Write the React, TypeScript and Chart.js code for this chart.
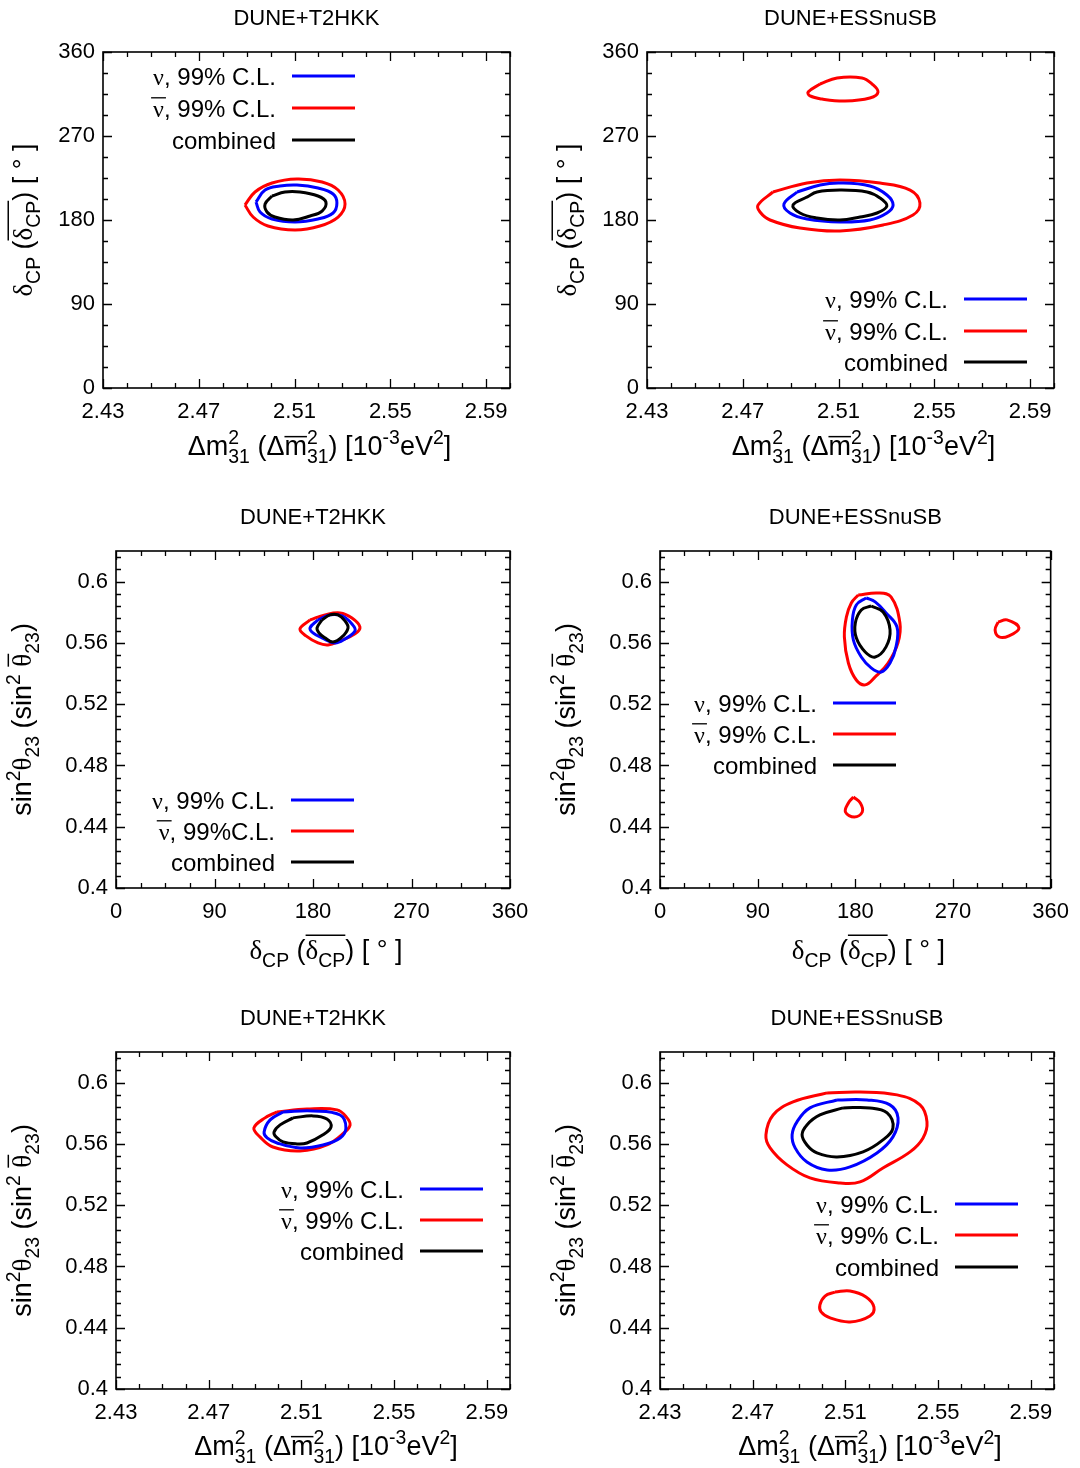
import React, { useEffect, useRef } from 'react';
import { Chart, registerables } from 'chart.js';
Chart.register(...registerables);

const SANS = '"Liberation Sans", Arial, Helvetica, sans-serif';
const SERIF = '"Liberation Serif", "Times New Roman", serif';

// ---------- tick labels / texts ----------
const dmTickLabels = ['2.43', '2.47', '2.51', '2.55', '2.59'];
const deltaTickLabels = ['0', '90', '180', '270', '360'];
const s23TickLabels = ['0.4', '0.44', '0.48', '0.52', '0.56', '0.6'];
const panelTitles = ['DUNE+T2HKK', 'DUNE+ESSnuSB'];
const legendNames = ['ν, 99% C.L.', 'ν, 99% C.L.', 'combined'];
const legendNamesAlt = ['ν, 99% C.L.', 'ν, 99%C.L.', 'combined'];
const seriesColors = ['#0000ff', '#ff0000', '#000000'];

// ---------- axis ranges ----------
const dmRange = [2.43, 2.6];
const deltaRange = [0, 360];
const s23Range = [0.4, 0.62];
const dmStep = 0.01;
const deltaStep = 22.5;
const s23Step = 0.008;

// ---------- contour data ----------
// Panel 1: DUNE+T2HKK, x = dm31^2, y = deltaCP
const t2hkkDmDeltaNu = [[2.4939,199.3],[2.4977,212.1],[2.5039,216.4],[2.5110,217.5],[2.5198,214.3],[2.5261,207.9],[2.5277,198.2],[2.5261,187.5],[2.5198,181.1],[2.5102,177.9],[2.5006,181.1],[2.4956,188.6]];
const t2hkkDmDeltaNuBar = [[2.4893,196.1],[2.4935,210.0],[2.5006,219.6],[2.5110,223.9],[2.5215,220.7],[2.5282,212.1],[2.5311,197.1],[2.5282,183.2],[2.5206,173.6],[2.5102,169.3],[2.4989,173.6],[2.4927,183.2]];
const t2hkkDmDeltaComb = [[2.5006,205.7],[2.5060,210.0],[2.5123,210.0],[2.5198,205.7],[2.5231,199.3],[2.5215,189.6],[2.5165,184.3],[2.5094,180.0],[2.5018,183.2],[2.4985,188.6],[2.4977,197.1]];

// Panel 2: DUNE+ESSnuSB, x = dm31^2, y = deltaCP
const essDmDeltaNu = [[2.4927,210.0],[2.5023,217.5],[2.5106,219.6],[2.5231,216.4],[2.5302,206.8],[2.5328,196.1],[2.5302,187.5],[2.5231,180.0],[2.5106,177.9],[2.4968,181.1],[2.4897,187.5],[2.4872,197.1]];
const essDmDeltaNuBar = [[2.4826,210.0],[2.4968,219.6],[2.5106,222.9],[2.5273,219.6],[2.5399,212.1],[2.5440,198.2],[2.5411,185.4],[2.5286,174.6],[2.5106,168.2],[2.4939,171.4],[2.4814,180.0],[2.4772,188.6],[2.4764,196.1]];
const essDmDeltaNuBarIsland = [[2.5023,325.7],[2.5094,332.1],[2.5198,332.1],[2.5240,325.7],[2.5265,317.1],[2.5231,310.7],[2.5127,307.5],[2.5031,309.6],[2.4981,312.9],[2.4973,317.1]];
const essDmDeltaComb = [[2.4968,204.6],[2.5010,210.0],[2.5106,212.1],[2.5219,210.0],[2.5273,203.6],[2.5302,195.0],[2.5261,187.5],[2.5190,183.2],[2.5106,180.0],[2.5010,182.1],[2.4939,187.5],[2.4910,196.1]];

// Panel 3: DUNE+T2HKK, x = deltaCP, y = sin^2 theta23
const t2hkkDeltaS23Nu = [[184.6,0.5750],[195.5,0.5783],[206.5,0.5776],[215.6,0.5724],[218.4,0.5678],[209.2,0.5626],[200.1,0.5600],[188.2,0.5633],[180.0,0.5665],[177.3,0.5698]];
const t2hkkDeltaS23NuBar = [[177.3,0.5750],[191.0,0.5783],[204.7,0.5796],[215.6,0.5763],[222.9,0.5704],[218.4,0.5659],[204.7,0.5613],[193.7,0.5587],[184.6,0.5600],[173.6,0.5646],[168.1,0.5691]];
const t2hkkDeltaS23Comb = [[188.2,0.5750],[195.5,0.5783],[202.8,0.5783],[209.2,0.5744],[212.0,0.5698],[206.5,0.5639],[198.3,0.5606],[191.0,0.5633],[185.5,0.5665],[183.7,0.5698]];

// Panel 4: DUNE+ESSnuSB, x = deltaCP, y = sin^2 theta23
const essDeltaS23Nu = [[190.0,0.5894],[198.3,0.5868],[208.3,0.5796],[218.4,0.5704],[217.5,0.5574],[212.0,0.5469],[203.8,0.5410],[194.6,0.5437],[185.5,0.5508],[178.2,0.5619],[177.3,0.5750],[180.9,0.5848]];
const essDeltaS23NuBar = [[182.7,0.5913],[201.0,0.5926],[212.9,0.5900],[221.1,0.5730],[219.3,0.5600],[210.2,0.5469],[198.3,0.5378],[189.1,0.5326],[180.9,0.5358],[173.6,0.5469],[169.9,0.5639],[171.8,0.5770],[176.3,0.5861]];
const essDeltaS23NuBarRight = [[311.6,0.5737],[319.8,0.5750],[330.8,0.5698],[321.6,0.5646],[312.5,0.5639],[308.8,0.5685]];
const essDeltaS23NuBarLow = [[178.2,0.4594],[173.6,0.4555],[170.9,0.4496],[179.1,0.4464],[186.4,0.4496],[184.6,0.4555]];
const essDeltaS23Comb = [[194.6,0.5841],[205.6,0.5802],[212.0,0.5685],[208.3,0.5574],[198.3,0.5508],[189.1,0.5541],[180.9,0.5633],[180.0,0.5730],[185.5,0.5815]];

// Panel 5: DUNE+T2HKK, x = dm31^2, y = sin^2 theta23
const t2hkkDmS23Nu = [[2.5021,0.5809],[2.5150,0.5815],[2.5267,0.5789],[2.5292,0.5704],[2.5267,0.5639],[2.5193,0.5593],[2.5094,0.5574],[2.4995,0.5606],[2.4952,0.5639],[2.4939,0.5678],[2.4965,0.5757]];
const t2hkkDmS23NuBar = [[2.4995,0.5809],[2.5124,0.5828],[2.5254,0.5822],[2.5297,0.5770],[2.5310,0.5724],[2.5288,0.5678],[2.5210,0.5593],[2.5094,0.5554],[2.4977,0.5580],[2.4921,0.5646],[2.4895,0.5704],[2.4943,0.5770]];
const t2hkkDmS23Comb = [[2.5064,0.5770],[2.5150,0.5783],[2.5210,0.5763],[2.5228,0.5711],[2.5193,0.5659],[2.5124,0.5606],[2.5081,0.5600],[2.5021,0.5613],[2.4990,0.5646],[2.4982,0.5678],[2.5008,0.5724]];

// Panel 6: DUNE+ESSnuSB, x = dm31^2, y = sin^2 theta23
const essDmS23Nu = [[2.5064,0.5887],[2.5193,0.5887],[2.5292,0.5855],[2.5327,0.5770],[2.5305,0.5646],[2.5236,0.5541],[2.5120,0.5450],[2.5021,0.5430],[2.4934,0.5482],[2.4883,0.5574],[2.4870,0.5659],[2.4891,0.5744],[2.4947,0.5835]];
const essDmS23NuBar = [[2.5021,0.5933],[2.5163,0.5939],[2.5323,0.5920],[2.5422,0.5855],[2.5452,0.5744],[2.5435,0.5639],[2.5379,0.5548],[2.5262,0.5443],[2.5163,0.5352],[2.5077,0.5345],[2.4947,0.5378],[2.4848,0.5463],[2.4775,0.5574],[2.4757,0.5659],[2.4788,0.5789],[2.4874,0.5874]];
const essDmS23NuBarIsland = [[2.5055,0.4633],[2.5120,0.4640],[2.5189,0.4601],[2.5223,0.4535],[2.5206,0.4477],[2.5120,0.4438],[2.5034,0.4464],[2.4995,0.4503],[2.4990,0.4549],[2.5012,0.4607]];
const essDmS23Comb = [[2.5090,0.5835],[2.5206,0.5835],[2.5280,0.5802],[2.5305,0.5704],[2.5262,0.5626],[2.5176,0.5548],[2.5064,0.5515],[2.4977,0.5541],[2.4934,0.5593],[2.4913,0.5659],[2.4934,0.5724],[2.4990,0.5789]];

// ---------- rich text ----------
type Seg = { t?: string; serif?: boolean; sup?: string; sub?: string; over?: boolean; overAll?: boolean; overPad?: number; overY?: number };

const dmTitle: Seg[] = [
  { t: 'Δm', sup: '2', sub: '31' }, { t: ' (Δ' }, { t: 'm', over: true, overY: 0.68, sup: '2', sub: '31' },
  { t: ') [10', sup: '-3' }, { t: 'eV', sup: '2' }, { t: ']' },
];
const deltaTitle: Seg[] = [
  { t: 'δ', serif: true, sub: 'CP' }, { t: ' (' }, { t: 'δ', serif: true, sub: 'CP', overAll: true }, { t: ') [ ° ]' },
];
const s23Title: Seg[] = [
  { t: 'sin', sup: '2' }, { t: 'θ', serif: true, sub: '23' }, { t: ' (sin', sup: '2' }, { t: ' ' },
  { t: 'θ', serif: true, sub: '23', over: true, overY: 0.84 }, { t: ')' },
];

const SCRIPT = 0.72;

function segWidths(ctx: CanvasRenderingContext2D, s: Seg, size: number) {
  let w = 0;
  if (s.t) {
    ctx.font = `${size}px ${s.serif ? SERIF : SANS}`;
    w = ctx.measureText(s.t).width;
  }
  ctx.font = `${size * SCRIPT}px ${SANS}`;
  let ws = 0;
  if (s.sup) ws = Math.max(ws, ctx.measureText(s.sup).width);
  if (s.sub) ws = Math.max(ws, ctx.measureText(s.sub).width);
  return { w, total: w + ws };
}

function drawRich(ctx: CanvasRenderingContext2D, segs: Seg[], x: number, y: number, size: number, align: string, rotate = false) {
  ctx.save();
  ctx.translate(x, y);
  if (rotate) ctx.rotate(-Math.PI / 2);
  const ws = segs.map((s) => segWidths(ctx, s, size));
  const total = ws.reduce((a, b) => a + b.total, 0);
  let cx = align === 'center' ? -total / 2 : align === 'right' ? -total : 0;
  ctx.fillStyle = '#000';
  ctx.strokeStyle = '#000';
  ctx.textAlign = 'left';
  ctx.textBaseline = 'alphabetic';
  segs.forEach((s, i) => {
    if (s.t) {
      ctx.font = `${size}px ${s.serif ? SERIF : SANS}`;
      ctx.fillText(s.t, cx, 0);
    }
    const px = cx + ws[i].w;
    ctx.font = `${size * SCRIPT}px ${SANS}`;
    if (s.sup) ctx.fillText(s.sup, px, -size * 0.42);
    if (s.sub) ctx.fillText(s.sub, px, size * 0.3);
    if (s.over || s.overAll) {
      const pad = s.overPad || 0;
      const wLine = s.overAll ? ws[i].total : ws[i].w;
      const oy = -size * (s.overY || 0.88);
      ctx.lineWidth = Math.max(1.2, size * 0.055);
      ctx.beginPath();
      ctx.moveTo(cx - pad, oy);
      ctx.lineTo(cx + wLine + pad, oy);
      ctx.stroke();
    }
    cx += ws[i].total;
  });
  ctx.restore();
}

// ---------- axes ----------
type AxisDef = { range: number[]; step: number; labels: string[]; fmt: (v: number) => string; title: Seg[] };
const AXES: Record<string, AxisDef> = {
  dm: { range: dmRange, step: dmStep, labels: dmTickLabels, fmt: (v) => v.toFixed(2), title: dmTitle },
  delta: { range: deltaRange, step: deltaStep, labels: deltaTickLabels, fmt: (v) => String(Math.round(v * 100) / 100), title: deltaTitle },
  s23: { range: s23Range, step: s23Step, labels: s23TickLabels, fmt: (v) => String(parseFloat(v.toFixed(4))), title: s23Title },
};

function tickValues(a: AxisDef) {
  const [mn, mx] = a.range;
  const n = Math.floor((mx - mn) / a.step + 1e-6);
  const out: number[] = [];
  for (let i = 0; i <= n; i++) out.push(parseFloat((mn + i * a.step).toFixed(6)));
  return out;
}

// ---------- panels ----------
type Series = { data: number[][]; color: number; label: string };
type Panel = {
  left: number; top: number; w: number; h: number;
  area: { l: number; t: number; r: number; b: number };
  x: string; y: string; title: string; series: Series[];
  legend: { lineX: number; ys: number[]; names: string[] };
  xTitleOff: number; yTitleOff: number;
};

const mk = (nu: number[][], nubar: number[][][], comb: number[][]): Series[] => [
  { data: comb, color: 2, label: legendNames[2] },
  { data: nu, color: 0, label: legendNames[0] },
  ...nubar.map((d) => ({ data: d, color: 1, label: 'ν̄, 99% C.L.' })),
];

const PANELS: Panel[] = [
  {
    left: 0, top: 0, w: 540, h: 480, area: { l: 103, t: 52, r: 510, b: 388 }, x: 'dm', y: 'delta', title: panelTitles[0],
    series: mk(t2hkkDmDeltaNu, [t2hkkDmDeltaNuBar], t2hkkDmDeltaComb),
    legend: { lineX: 292, ys: [76, 108, 140], names: legendNames }, xTitleOff: 67, yTitleOff: 71,
  },
  {
    left: 540, top: 0, w: 540, h: 480, area: { l: 107, t: 52, r: 514, b: 388 }, x: 'dm', y: 'delta', title: panelTitles[1],
    series: mk(essDmDeltaNu, [essDmDeltaNuBar, essDmDeltaNuBarIsland], essDmDeltaComb),
    legend: { lineX: 424, ys: [299, 331, 362], names: legendNames }, xTitleOff: 67, yTitleOff: 71,
  },
  {
    left: 0, top: 490, w: 540, h: 490, area: { l: 116, t: 61, r: 510, b: 398 }, x: 'delta', y: 's23', title: panelTitles[0],
    series: mk(t2hkkDeltaS23Nu, [t2hkkDeltaS23NuBar], t2hkkDeltaS23Comb),
    legend: { lineX: 291, ys: [310, 341, 372], names: legendNamesAlt }, xTitleOff: 71, yTitleOff: 85,
  },
  {
    left: 540, top: 490, w: 540, h: 490, area: { l: 120, t: 61, r: 514, b: 398 }, x: 'delta', y: 's23', title: panelTitles[1],
    series: mk(essDeltaS23Nu, [essDeltaS23NuBar, essDeltaS23NuBarRight, essDeltaS23NuBarLow], essDeltaS23Comb),
    legend: { lineX: 293, ys: [213, 244, 275], names: legendNames }, xTitleOff: 71, yTitleOff: 85,
  },
  {
    left: 0, top: 990, w: 540, h: 478, area: { l: 116, t: 62, r: 510, b: 399 }, x: 'dm', y: 's23', title: panelTitles[0],
    series: mk(t2hkkDmS23Nu, [t2hkkDmS23NuBar], t2hkkDmS23Comb),
    legend: { lineX: 420, ys: [199, 230, 261], names: legendNames }, xTitleOff: 66, yTitleOff: 85,
  },
  {
    left: 540, top: 990, w: 540, h: 478, area: { l: 120, t: 62, r: 514, b: 399 }, x: 'dm', y: 's23', title: panelTitles[1],
    series: mk(essDmS23Nu, [essDmS23NuBar, essDmS23NuBarIsland], essDmS23Comb),
    legend: { lineX: 415, ys: [214, 245, 277], names: legendNames }, xTitleOff: 66, yTitleOff: 85,
  },
];

const Y_W = 60;
const X_H = 40;

function scaleOpts(axis: AxisDef, isX: boolean) {
  return {
    type: 'linear',
    min: axis.range[0],
    max: axis.range[1],
    afterFit: (s: any) => {
      if (isX) s.height = X_H;
      else s.width = Y_W;
    },
    afterBuildTicks: (s: any) => {
      s.ticks = tickValues(axis).map((v) => ({ value: v }));
    },
    ticks: {
      autoSkip: false,
      maxRotation: 0,
      minRotation: 0,
      padding: isX ? 11 : 8,
      color: '#000',
      font: { family: SANS, size: 22 },
      callback: (v: number) => {
        const s = axis.fmt(v);
        return axis.labels.includes(s) ? s : '';
      },
    },
    grid: { display: false, drawTicks: false },
    border: { display: false },
  };
}

function decorPlugin(p: Panel) {
  return {
    id: 'decor',
    afterDraw(chart: any) {
      const ctx: CanvasRenderingContext2D = chart.ctx;
      const a = chart.chartArea;
      const xs = chart.scales.x;
      const ys = chart.scales.y;
      ctx.save();
      ctx.strokeStyle = '#000';
      ctx.lineWidth = 1.6;
      ctx.strokeRect(a.left, a.top, a.right - a.left, a.bottom - a.top);
      ctx.lineWidth = 1.3;
      ctx.beginPath();
      xs.ticks.forEach((t: any) => {
        const px = Math.round(xs.getPixelForValue(t.value)) + 0.5;
        const L = t.label ? 9 : 5;
        ctx.moveTo(px, a.bottom); ctx.lineTo(px, a.bottom - L);
        ctx.moveTo(px, a.top); ctx.lineTo(px, a.top + L);
      });
      ys.ticks.forEach((t: any) => {
        const py = Math.round(ys.getPixelForValue(t.value)) + 0.5;
        const L = t.label ? 9 : 5;
        ctx.moveTo(a.left, py); ctx.lineTo(a.left + L, py);
        ctx.moveTo(a.right, py); ctx.lineTo(a.right - L, py);
      });
      ctx.stroke();
      ctx.restore();

      // panel title
      drawRich(ctx, [{ t: p.title }], (a.left + a.right) / 2, a.top - 27, 22, 'center');
      // axis titles
      drawRich(ctx, AXES[p.x].title, (a.left + a.right) / 2 + 13, a.bottom + p.xTitleOff, 27, 'center');
      drawRich(ctx, AXES[p.y].title, a.left - p.yTitleOff, (a.top + a.bottom) / 2, 27, 'center', true);

      // legend
      const lg = p.legend;
      lg.names.forEach((name, i) => {
        const y = lg.ys[i];
        ctx.save();
        ctx.strokeStyle = seriesColors[i];
        ctx.lineWidth = 3;
        ctx.beginPath();
        ctx.moveTo(lg.lineX, y);
        ctx.lineTo(lg.lineX + 63, y);
        ctx.stroke();
        ctx.restore();
        const segs: Seg[] = i < 2
          ? [{ t: name.slice(0, 1), serif: true, over: i === 1, overPad: 2, overY: 0.8 }, { t: name.slice(1) }]
          : [{ t: name }];
        drawRich(ctx, segs, lg.lineX - 16, y + 9, 24, 'right');
      });
    },
  };
}

function makeConfig(p: Panel): any {
  const xa = AXES[p.x];
  const ya = AXES[p.y];
  return {
    type: 'scatter',
    data: {
      datasets: p.series.map((s) => ({
        label: s.label,
        data: s.data.concat([s.data[0]]).map(([x, y]) => ({ x, y })),
        showLine: true,
        borderColor: seriesColors[s.color],
        backgroundColor: seriesColors[s.color],
        borderWidth: 3,
        pointRadius: 0,
        tension: 0.4,
        fill: false,
      })),
    },
    options: {
      animation: false,
      responsive: false,
      maintainAspectRatio: false,
      devicePixelRatio: 1,
      layout: {
        padding: {
          left: p.area.l - Y_W,
          top: p.area.t,
          right: p.w - p.area.r,
          bottom: p.h - p.area.b - X_H,
        },
      },
      plugins: { legend: { display: false }, tooltip: { enabled: false }, title: { display: false } },
      scales: { x: scaleOpts(xa, true), y: scaleOpts(ya, false) },
    },
    plugins: [decorPlugin(p)],
  };
}

function PanelChart({ p }: { p: Panel }) {
  const ref = useRef<HTMLCanvasElement>(null);
  useEffect(() => {
    const chart = new Chart(ref.current as HTMLCanvasElement, makeConfig(p));
    return () => chart.destroy();
  }, [p]);
  return (
    <canvas
      ref={ref}
      width={p.w}
      height={p.h}
      style={{ position: 'absolute', left: p.left, top: p.top, width: p.w, height: p.h }}
    />
  );
}

export default function App() {
  return (
    <div style={{ position: 'absolute', left: 0, top: 0, width: 1080, height: 1468, background: '#fff' }}>
      {PANELS.map((p, i) => (
        <PanelChart key={i} p={p} />
      ))}
    </div>
  );
}
